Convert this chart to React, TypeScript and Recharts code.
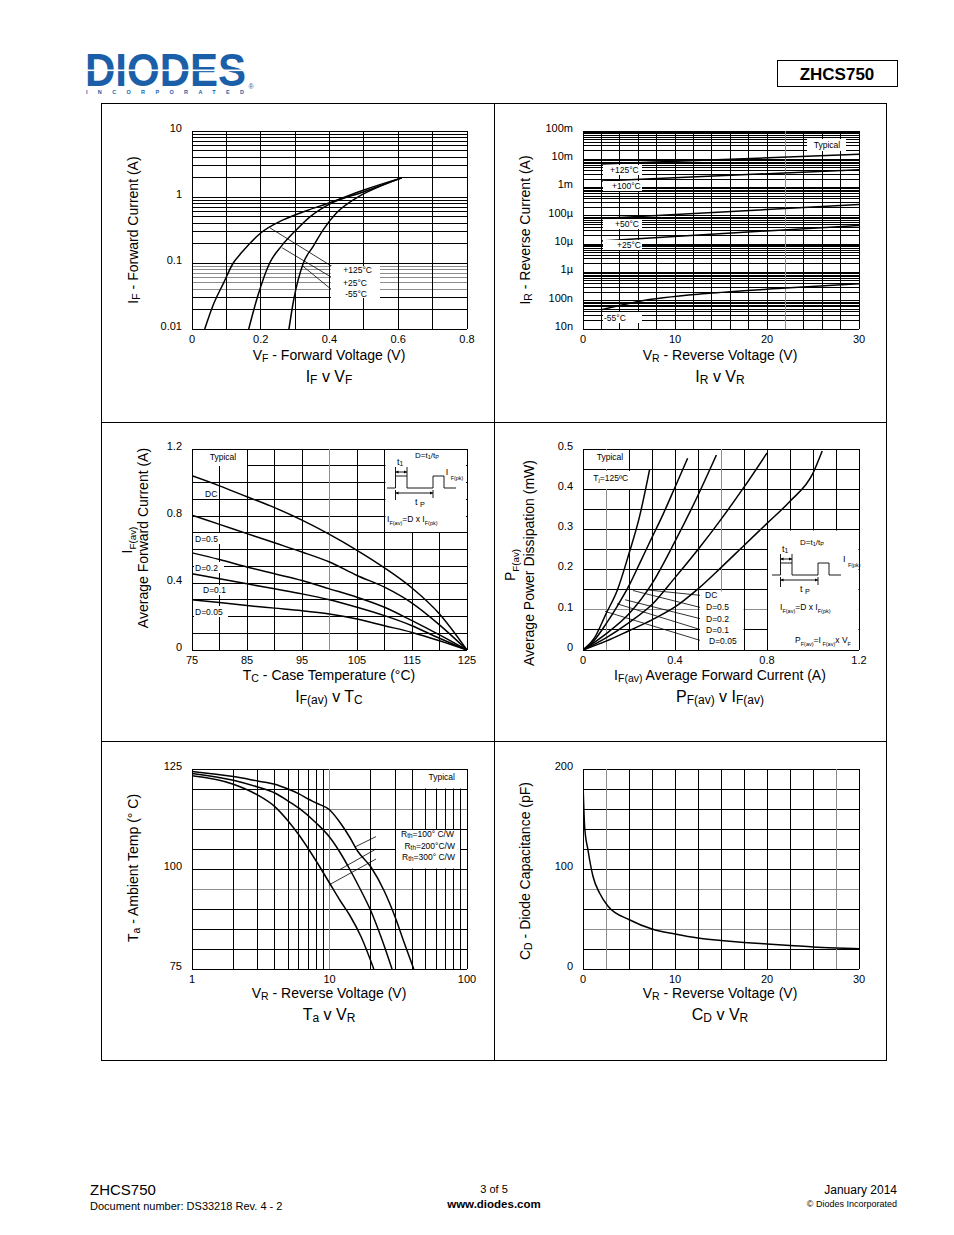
import React from "react";
import { LineChart, Line, XAxis, YAxis, ReferenceLine } from "recharts";

const FONT = "'Liberation Sans', Arial, Helvetica, sans-serif";
const BLUE = "#1b5fa8";

type Pt = { x: number; y: number };

// ---- IF v VF (log y) ----
const vfHot: Pt[] = [
  { x: 0.037, y: 0.01 }, { x: 0.06, y: 0.022 }, { x: 0.092, y: 0.05 }, { x: 0.12, y: 0.1 },
  { x: 0.145, y: 0.145 }, { x: 0.2, y: 0.285 }, { x: 0.265, y: 0.45 }, { x: 0.333, y: 0.62 },
  { x: 0.4, y: 0.82 }, { x: 0.5, y: 1.28 }, { x: 0.61, y: 1.95 },
];
const vfRoom: Pt[] = [
  { x: 0.165, y: 0.01 }, { x: 0.19, y: 0.03 }, { x: 0.226, y: 0.1 }, { x: 0.26, y: 0.18 },
  { x: 0.304, y: 0.32 }, { x: 0.343, y: 0.5 }, { x: 0.4, y: 0.78 }, { x: 0.5, y: 1.2 }, { x: 0.61, y: 1.95 },
];
const vfCold: Pt[] = [
  { x: 0.282, y: 0.01 }, { x: 0.296, y: 0.028 }, { x: 0.324, y: 0.1 }, { x: 0.353, y: 0.18 },
  { x: 0.382, y: 0.32 }, { x: 0.42, y: 0.57 }, { x: 0.48, y: 0.98 }, { x: 0.54, y: 1.4 }, { x: 0.61, y: 1.95 },
];
const vfXTicks = [0, 0.2, 0.4, 0.6, 0.8];
const vfXLabels = ["0", "0.2", "0.4", "0.6", "0.8"];
const ifYTicks = [0.01, 0.1, 1, 10];
const ifYLabels = ["0.01", "0.1", "1", "10"];
const vfLeaders: [Pt, Pt][] = [
  [{ x: 0.227, y: 0.34 }, { x: 0.41, y: 0.087 }],
  [{ x: 0.262, y: 0.17 }, { x: 0.41, y: 0.059 }],
  [{ x: 0.322, y: 0.09 }, { x: 0.41, y: 0.038 }],
];

// ---- IR v VR (log y) ----
const ir125: Pt[] = [{ x: 2, y: 6.8e-3 }, { x: 30, y: 1.5e-2 }];
const ir100: Pt[] = [{ x: 2, y: 1.7e-3 }, { x: 30, y: 4.3e-3 }];
const ir50: Pt[] = [{ x: 2, y: 8e-5 }, { x: 30, y: 2.5e-4 }];
const ir25: Pt[] = [{ x: 2, y: 1.3e-5 }, { x: 30, y: 4.6e-5 }];
const irM55: Pt[] = [
  { x: 2, y: 4.8e-8 }, { x: 6, y: 9.4e-8 }, { x: 14, y: 1.86e-7 }, { x: 22, y: 2.8e-7 }, { x: 30, y: 4.0e-7 },
];
const vrXTicks = [0, 10, 20, 30];
const vrXLabels = ["0", "10", "20", "30"];
const irYTicks = [1e-8, 1e-7, 1e-6, 1e-5, 1e-4, 1e-3, 1e-2, 1e-1];
const irYLabels = ["10n", "100n", "1µ", "10µ", "100µ", "1m", "10m", "100m"];

// ---- IF(av) v TC ----
const tcDC: Pt[] = [
  { x: 75, y: 1.04 }, { x: 80, y: 0.98 }, { x: 85, y: 0.915 }, { x: 90, y: 0.85 }, { x: 95, y: 0.775 },
  { x: 100, y: 0.69 }, { x: 105, y: 0.595 }, { x: 110, y: 0.49 }, { x: 115, y: 0.37 }, { x: 120, y: 0.215 }, { x: 125, y: 0 },
];
const tcD05: Pt[] = [
  { x: 75, y: 0.805 }, { x: 80, y: 0.75 }, { x: 85, y: 0.695 }, { x: 90, y: 0.64 }, { x: 95, y: 0.585 },
  { x: 100, y: 0.525 }, { x: 105, y: 0.445 }, { x: 110, y: 0.375 }, { x: 115, y: 0.28 }, { x: 120, y: 0.15 }, { x: 125, y: 0 },
];
const tcD02: Pt[] = [
  { x: 75, y: 0.58 }, { x: 80, y: 0.54 }, { x: 85, y: 0.495 }, { x: 90, y: 0.455 }, { x: 95, y: 0.415 },
  { x: 100, y: 0.365 }, { x: 105, y: 0.315 }, { x: 110, y: 0.255 }, { x: 115, y: 0.175 }, { x: 120, y: 0.09 }, { x: 125, y: 0 },
];
const tcD01: Pt[] = [
  { x: 75, y: 0.455 }, { x: 80, y: 0.425 }, { x: 85, y: 0.395 }, { x: 90, y: 0.365 }, { x: 95, y: 0.335 },
  { x: 100, y: 0.3 }, { x: 105, y: 0.255 }, { x: 110, y: 0.205 }, { x: 115, y: 0.145 }, { x: 120, y: 0.07 }, { x: 125, y: 0 },
];
const tcD005: Pt[] = [
  { x: 75, y: 0.3 }, { x: 80, y: 0.283 }, { x: 85, y: 0.265 }, { x: 90, y: 0.25 }, { x: 95, y: 0.235 },
  { x: 100, y: 0.215 }, { x: 105, y: 0.185 }, { x: 110, y: 0.145 }, { x: 115, y: 0.105 }, { x: 120, y: 0.055 }, { x: 125, y: 0 },
];
const tcXTicks = [75, 85, 95, 105, 115, 125];
const tcXLabels = ["75", "85", "95", "105", "115", "125"];
const tcYTicks = [0, 0.4, 0.8, 1.2];
const tcYLabels = ["0", "0.4", "0.8", "1.2"];

// ---- PF(av) v IF(av) ----
const pfD005: Pt[] = [
  { x: 0, y: 0 }, { x: 0.05, y: 0.03 }, { x: 0.1, y: 0.09 }, { x: 0.15, y: 0.15 }, { x: 0.2, y: 0.24 },
  { x: 0.245, y: 0.33 }, { x: 0.29, y: 0.45 },
];
const pfD01: Pt[] = [
  { x: 0, y: 0 }, { x: 0.05, y: 0.025 }, { x: 0.1, y: 0.065 }, { x: 0.15, y: 0.11 }, { x: 0.2, y: 0.16 },
  { x: 0.25, y: 0.22 }, { x: 0.3, y: 0.28 }, { x: 0.35, y: 0.34 }, { x: 0.4, y: 0.405 }, { x: 0.455, y: 0.477 },
];
const pfD02: Pt[] = [
  { x: 0, y: 0 }, { x: 0.1, y: 0.04 }, { x: 0.2, y: 0.09 }, { x: 0.3, y: 0.165 }, { x: 0.4, y: 0.27 },
  { x: 0.5, y: 0.385 }, { x: 0.58, y: 0.485 },
];
const pfD05: Pt[] = [
  { x: 0, y: 0 }, { x: 0.1, y: 0.03 }, { x: 0.2, y: 0.068 }, { x: 0.3, y: 0.113 }, { x: 0.4, y: 0.18 },
  { x: 0.5, y: 0.25 }, { x: 0.6, y: 0.325 }, { x: 0.7, y: 0.405 }, { x: 0.8, y: 0.49 },
];
const pfDC: Pt[] = [
  { x: 0, y: 0 }, { x: 0.1, y: 0.022 }, { x: 0.2, y: 0.048 }, { x: 0.3, y: 0.075 }, { x: 0.4, y: 0.107 },
  { x: 0.5, y: 0.152 }, { x: 0.6, y: 0.205 }, { x: 0.7, y: 0.26 }, { x: 0.8, y: 0.315 }, { x: 0.9, y: 0.37 },
  { x: 1.0, y: 0.44 }, { x: 1.04, y: 0.495 },
];
const pfXTicks = [0, 0.4, 0.8, 1.2];
const pfXLabels = ["0", "0.4", "0.8", "1.2"];
const pfYTicks = [0, 0.1, 0.2, 0.3, 0.4, 0.5];
const pfYLabels = ["0", "0.1", "0.2", "0.3", "0.4", "0.5"];
const pfLeaders: [Pt, Pt][] = [
  [{ x: 0.27, y: 0.15 }, { x: 0.509, y: 0.136 }],
  [{ x: 0.217, y: 0.148 }, { x: 0.509, y: 0.106 }],
  [{ x: 0.183, y: 0.125 }, { x: 0.509, y: 0.078 }],
  [{ x: 0.148, y: 0.115 }, { x: 0.509, y: 0.051 }],
  [{ x: 0.096, y: 0.096 }, { x: 0.509, y: 0.024 }],
];

// ---- Ta v VR (log x) ----
const taR100: Pt[] = [
  { x: 1, y: 124.4 }, { x: 2, y: 123.1 }, { x: 3, y: 122 }, { x: 4, y: 121.2 }, { x: 5, y: 120 },
  { x: 6, y: 118.8 }, { x: 7, y: 117.5 }, { x: 8, y: 116.5 }, { x: 10, y: 114.8 }, { x: 12, y: 111.5 },
  { x: 14, y: 108 }, { x: 16, y: 104.5 }, { x: 20, y: 100.5 }, { x: 25, y: 94.5 }, { x: 30, y: 88 },
  { x: 35, y: 81.5 }, { x: 41, y: 75 },
];
const taR200: Pt[] = [
  { x: 1, y: 123.9 }, { x: 2, y: 122.2 }, { x: 3, y: 120.5 }, { x: 4, y: 119 }, { x: 5, y: 117 },
  { x: 6, y: 115.2 }, { x: 8, y: 111.5 }, { x: 10, y: 108 }, { x: 12, y: 104 }, { x: 14, y: 100 },
  { x: 17, y: 94.5 }, { x: 20, y: 89.5 }, { x: 24, y: 82.5 }, { x: 28.5, y: 75 },
];
const taR300: Pt[] = [
  { x: 1, y: 123.3 }, { x: 2, y: 121.2 }, { x: 3, y: 118.5 }, { x: 4, y: 115.6 }, { x: 5, y: 112 },
  { x: 6, y: 108.5 }, { x: 8, y: 102 }, { x: 10, y: 96.5 }, { x: 12, y: 92 }, { x: 14, y: 88.5 },
  { x: 17, y: 83 }, { x: 21, y: 75 },
];
const taXTicks = [1, 10, 100];
const taXLabels = ["1", "10", "100"];
const taYTicks = [75, 100, 125];
const taYLabels = ["75", "100", "125"];
const taLeaders: [Pt, Pt][] = [
  [{ x: 15.3, y: 105.5 }, { x: 21.8, y: 108.1 }],
  [{ x: 11.8, y: 99.8 }, { x: 21.8, y: 105 }],
  [{ x: 9.9, y: 96 }, { x: 21.8, y: 102.5 }],
];

// ---- CD v VR ----
const cdVr: Pt[] = [
  { x: 0, y: 186 }, { x: 0.18, y: 142 }, { x: 0.54, y: 119 }, { x: 1.09, y: 92.5 }, { x: 1.8, y: 76 },
  { x: 2.7, y: 63 }, { x: 5.1, y: 49 }, { x: 7.5, y: 40 }, { x: 10, y: 35 }, { x: 12.5, y: 31 },
  { x: 15, y: 28.6 }, { x: 17.5, y: 26.6 }, { x: 20, y: 25 }, { x: 22.5, y: 23.6 }, { x: 25, y: 22 },
  { x: 27.5, y: 21 }, { x: 30, y: 20.3 },
];
const cdYTicks = [0, 100, 200];
const cdYLabels = ["0", "100", "200"];

function linGrid(a: number, b: number, step: number) {
  const out: number[] = [];
  const n = Math.round((b - a) / step);
  for (let i = 0; i <= n; i++) out.push(+(a + i * step).toFixed(6));
  return out;
}
function logGrid(a: number, b: number) {
  const out: number[] = [];
  for (let e = Math.round(Math.log10(a)); e < Math.round(Math.log10(b)); e++)
    for (let k = 1; k < 10; k++) out.push(+(k * Math.pow(10, e)).toPrecision(6));
  out.push(b);
  return out;
}
function labelFor(ticks: number[], labels: string[]) {
  return (v: number) => {
    let best = 0;
    ticks.forEach((t, i) => {
      if (Math.abs(t - v) < Math.abs(ticks[best] - v)) best = i;
    });
    return labels[best];
  };
}
const near = (list: number[], v: number) => list.some((g) => Math.abs(g - v) <= Math.abs(v) * 1e-6 + 1e-12);

type PlotProps = {
  L: number; T: number; W: number; H: number;
  xd: [number, number]; yd: [number, number];
  xlog?: boolean; ylog?: boolean;
  xt: number[]; yt: number[];
  xf: (v: number) => string; yf: (v: number) => string;
  gx: number[]; gy: number[];
  grayX?: number[]; grayY?: number[];
  series: Pt[][];
  linear?: boolean;
  leaders?: [Pt, Pt][];
};

function Plot({ L, T, W, H, xd, yd, xlog, ylog, xt, yt, xf, yf, gx, gy, grayX = [], grayY = [], series, linear, leaders = [] }: PlotProps) {
  const ML = 60, MT = 10, MR = 20, XH = 26;
  return (
    <div style={{ position: "absolute", left: L - ML, top: T - MT }}>
      <LineChart width={W + ML + MR} height={H + MT + XH} margin={{ top: MT, right: MR, left: 0, bottom: 0 }}>
        <XAxis
          type="number" dataKey="x" domain={xd} scale={xlog ? "log" : "linear"} ticks={xt} interval={0}
          allowDataOverflow height={XH} tickSize={0} tickMargin={6} axisLine={false} tickLine={false}
          tick={(p: any) => (
            <text x={p.x} y={p.y} dy="0.71em" textAnchor="middle" fontSize={11} fontFamily={FONT} fill="#000">
              {xf(p.payload.value)}
            </text>
          )}
        />
        <YAxis
          type="number" domain={yd} scale={ylog ? "log" : "linear"} ticks={yt} interval={0}
          allowDataOverflow width={ML} tickSize={0} tickMargin={10} axisLine={false} tickLine={false}
          tick={(p: any) => (
            <text x={p.x} y={p.y - 3} dy="0.35em" textAnchor="end" fontSize={11} fontFamily={FONT} fill="#000">
              {yf(p.payload.value)}
            </text>
          )}
        />
        {gy.map((v) => (
          <ReferenceLine key={"gy" + v} y={v} ifOverflow="visible" stroke={near(grayY, v) ? "#8c8c8c" : "#000"} strokeWidth={1} shapeRendering="crispEdges" />
        ))}
        {gx.map((v) => (
          <ReferenceLine key={"gx" + v} x={v} ifOverflow="visible" stroke={near(grayX, v) ? "#8c8c8c" : "#000"} strokeWidth={1} shapeRendering="crispEdges" />
        ))}
        {leaders.map((s, i) => (
          <ReferenceLine key={"ld" + i} segment={s} ifOverflow="visible" stroke="#000" strokeWidth={0.8} />
        ))}
        {series.map((s, i) => (
          <Line
            key={"s" + i} data={s} dataKey="y" type={linear ? "linear" : "monotone"} stroke="#000" strokeWidth={1.5}
            dot={false} activeDot={false} isAnimationActive={false}
          />
        ))}
      </LineChart>
    </div>
  );
}

type Part = string | { s: string };
function Rich({ x, y, parts, size, anchor = "middle", rot = false, sub = 0.75, shift = 0.15, weight }: {
  x: number; y: number; parts: Part[]; size: number; anchor?: "start" | "middle" | "end"; rot?: boolean; sub?: number; shift?: number; weight?: string;
}) {
  let cur = 0;
  const sh = size * shift;
  return (
    <text x={x} y={y} fontSize={size} textAnchor={anchor} fontFamily={FONT} fontWeight={weight} fill="#000"
      transform={rot ? `rotate(-90 ${x} ${y})` : undefined}>
      {parts.map((p, i) => {
        if (typeof p === "string") {
          const dy = -cur;
          cur = 0;
          return <tspan key={i} dy={dy}>{p}</tspan>;
        }
        const dy = sh - cur;
        cur = sh;
        return <tspan key={i} dy={dy} fontSize={size * sub}>{p.s}</tspan>;
      })}
    </text>
  );
}

function Box({ x, y, w, h }: { x: number; y: number; w: number; h: number }) {
  return <rect x={x} y={y} width={w} height={h} fill="#fff" />;
}

function Small({ x, y, t, anchor = "start" }: { x: number; y: number; t: string; anchor?: "start" | "middle" | "end" }) {
  return (
    <text x={x} y={y} fontSize={8.5} fontFamily={FONT} textAnchor={anchor} fill="#000">{t}</text>
  );
}

function Pulse({ ox, oy, ix }: { ox: number; oy: number; ix: number }) {
  const a = ox + 8.5, b = ox + 20, c = ox + 46, d = ox + 57, e = ox + 69;
  const top = oy - 12;
  return (
    <g>
      <g stroke="#000" strokeWidth={0.9} fill="none">
        <path d={`M${ox},${oy} H${a} V${top} H${b} V${oy} H${c} V${top} H${d} V${oy} H${e}`} />
        <line x1={a} y1={oy - 21} x2={a} y2={oy - 12} />
        <line x1={b} y1={oy - 21} x2={b} y2={oy - 12} />
        <line x1={a} y1={oy - 16} x2={b} y2={oy - 16} />
        <line x1={a} y1={oy + 2} x2={a} y2={oy + 12} />
        <line x1={c} y1={oy + 2} x2={c} y2={oy + 10} />
        <line x1={a} y1={oy + 5} x2={c} y2={oy + 5} />
      </g>
      <g fill="#000">
        <path d={`M${a},${oy - 16} l3,-1.5 v3 z`} />
        <path d={`M${b},${oy - 16} l-3,-1.5 v3 z`} />
        <path d={`M${a},${oy + 5} l3,-1.5 v3 z`} />
        <path d={`M${c},${oy + 5} l-3,-1.5 v3 z`} />
      </g>
      <Rich x={ox + 10} y={oy - 23.5} size={9} anchor="start" parts={["t", { s: "1" }]} />
      <Rich x={ox + 28} y={oy - 30} size={8} anchor="start" sub={0.7} parts={["D=t", { s: "1" }, "/t", { s: "P" }]} />
      <Rich x={ox + 28} y={oy + 16.5} size={9} anchor="start" sub={0.8} shift={0.25} parts={["t ", { s: "P" }]} />
      <Rich x={ox + ix} y={oy - 13.5} size={9} anchor="start" sub={0.6} shift={0.6} parts={["I ", { s: "F(pk)" }]} />
    </g>
  );
}

function Overlay() {
  return (
    <svg width={954} height={1235} style={{ position: "absolute", left: 0, top: 0, pointerEvents: "none" }}>
      {/* header */}
      <text x={85} y={86} fontFamily={FONT} fontWeight="bold" fontSize={47} fill={BLUE} textLength={161} lengthAdjust="spacingAndGlyphs">DIODES</text>
      <rect x={85} y={69.5} width={163} height={1.6} fill="#fff" />
      <text x={248.5} y={89} fontFamily={FONT} fontSize={7} fill={BLUE}>®</text>
      <text x={86} y={94} fontFamily={FONT} fontWeight="bold" fontSize={5.5} fill={BLUE} textLength={158} lengthAdjust="spacing">INCORPORATED</text>
      <rect x={777.5} y={60.5} width={120} height={26} fill="none" stroke="#000" strokeWidth={1} />
      <text x={837} y={80} fontFamily={FONT} fontWeight="bold" fontSize={17} textAnchor="middle">ZHCS750</text>

      {/* frame */}
      <rect x={101.5} y={103.5} width={785} height={957} fill="none" stroke="#000" strokeWidth={1} />
      <line x1={494.5} y1={103.5} x2={494.5} y2={1060.5} stroke="#000" />
      <line x1={101.5} y1={422.5} x2={886.5} y2={422.5} stroke="#000" />
      <line x1={101.5} y1={741.5} x2={886.5} y2={741.5} stroke="#000" />

      {/* chart 1 labels */}
      <Box x={331} y={266} w={49} h={32} />
      <Small x={372} y={273} t="+125°C" anchor="end" />
      <Small x={367} y={285.5} t="+25°C" anchor="end" />
      <Small x={367} y={296.5} t="-55°C" anchor="end" />
      <Rich x={138} y={230} rot size={14} parts={["I", { s: "F" }, " - Forward Current (A)"]} />
      <Rich x={329} y={360} size={14} parts={["V", { s: "F" }, " - Forward Voltage (V)"]} />
      <Rich x={329} y={382} size={16} parts={["I", { s: "F" }, " v V", { s: "F" }]} />

      {/* chart 2 labels */}
      <Box x={807} y={139} w={39} h={12} />
      <Small x={827} y={148} t="Typical" anchor="middle" />
      <Box x={603} y={165} w={39} h={10} />
      <Small x={610} y={173} t="+125°C" />
      <Box x={603} y={181} w={39} h={10} />
      <Small x={612} y={188.5} t="+100°C" />
      <Box x={603} y={219} w={39} h={10} />
      <Small x={615} y={227} t="+50°C" />
      <Box x={603} y={240} w={39} h={10} />
      <Small x={617} y={248} t="+25°C" />
      <Box x={603} y={312} w={39} h={11} />
      <Small x={604} y={321} t="-55°C" />
      <Rich x={530} y={230} rot size={14} parts={["I", { s: "R" }, " - Reverse Current (A)"]} />
      <Rich x={720} y={360} size={14} parts={["V", { s: "R" }, " - Reverse Voltage (V)"]} />
      <Rich x={720} y={382} size={16} parts={["I", { s: "R" }, " v V", { s: "R" }]} />

      {/* chart 3 labels */}
      <Box x={193} y={450} w={54} h={16} />
      <Small x={223} y={459.5} t="Typical" anchor="middle" />
      <Box x={199} y={488} w={17} h={10} />
      <Small x={205} y={496.5} t="DC" />
      <Box x={194} y={533} w={32} h={11} />
      <Small x={195} y={541.5} t="D=0.5" />
      <Box x={194} y={562} w={30} h={11} />
      <Small x={195} y={571} t="D=0.2" />
      <Box x={202} y={585} w={27} h={10} />
      <Small x={203} y={593.2} t="D=0.1" />
      <Box x={194} y={606} w={34} h={11} />
      <Small x={195} y={615} t="D=0.05" />
      <Box x={385.5} y={450} w={80.5} h={82} />
      <Pulse ox={387} oy={488} ix={58.7} />
      <Rich x={387} y={522} size={8.5} anchor="start" sub={0.65} shift={0.3} parts={["I", { s: "F(av)" }, "=D x I", { s: "F(pk)" }]} />
      <Rich x={132} y={540} rot size={14} sub={0.7} shift={0.3} parts={["I", { s: "F(av)" }]} />
      <Rich x={148} y={538} rot size={14} parts={["Average Forward Current (A)"]} />
      <Rich x={329} y={680} size={14} parts={["T", { s: "C" }, " - Case Temperature (°C)"]} />
      <Rich x={329} y={702} size={16} parts={["I", { s: "F(av)" }, " v T", { s: "C" }]} />

      {/* chart 4 labels */}
      <Box x={584} y={450} w={44.5} h={19} />
      <Small x={610} y={460} t="Typical" anchor="middle" />
      <Box x={584} y={471} w={56} h={18} />
      <Rich x={593.3} y={480.5} size={8.5} anchor="start" sub={0.7} parts={["T", { s: "j" }, "=125ºC"]} />
      <Box x={700} y={591.5} w={43.5} h={58.5} />
      <Small x={705} y={598.2} t="DC" />
      <Small x={706} y={610} t="D=0.5" />
      <Small x={706} y={621.5} t="D=0.2" />
      <Small x={706} y={633.2} t="D=0.1" />
      <Small x={709} y={643.5} t="D=0.05" />
      <Box x={768} y={530.5} w={90.5} h={119.5} />
      <Pulse ox={772} oy={575} ix={71} />
      <Rich x={780} y={610} size={8.5} anchor="start" sub={0.65} shift={0.3} parts={["I", { s: "F(av)" }, "=D x I", { s: "F(pk)" }]} />
      <Rich x={795} y={643} size={8.5} anchor="start" sub={0.65} shift={0.3} parts={["P", { s: "F(av)" }, "=I", { s: " F(av)" }, "x V", { s: "F" }]} />
      <Rich x={515} y={565} rot size={14} sub={0.7} shift={0.3} parts={["P", { s: "F(av)" }]} />
      <Rich x={534} y={563} rot size={14} parts={["Average Power Dissipation (mW)"]} />
      <Rich x={720} y={680} size={14} parts={["I", { s: "F(av)" }, " Average Forward Current (A)"]} />
      <Rich x={720} y={702} size={16} parts={["P", { s: "F(av)" }, " v I", { s: "F(av)" }]} />

      {/* chart 5 labels */}
      <Box x={413} y={770} w={53} h={18.5} />
      <Small x={441.7} y={779.9} t="Typical" anchor="middle" />
      <Box x={396} y={830} w={64} h={38.5} />
      <Rich x={454} y={836.5} size={8.5} anchor="end" sub={0.75} parts={["R", { s: "th" }, "=100° C/W"]} />
      <Rich x={455} y={849} size={8.5} anchor="end" sub={0.75} parts={["R", { s: "th" }, "=200°C/W"]} />
      <Rich x={455} y={860} size={8.5} anchor="end" sub={0.75} parts={["R", { s: "th" }, "=300° C/W"]} />
      <Rich x={138} y={868} rot size={14} parts={["T", { s: "a" }, " - Ambient Temp (° C)"]} />
      <Rich x={329} y={998} size={14} parts={["V", { s: "R" }, " - Reverse Voltage (V)"]} />
      <Rich x={329} y={1020} size={16} parts={["T", { s: "a" }, " v V", { s: "R" }]} />

      {/* chart 6 labels */}
      <Rich x={530} y={871} rot size={14} parts={["C", { s: "D" }, " - Diode Capacitance (pF)"]} />
      <Rich x={720} y={998} size={14} parts={["V", { s: "R" }, " - Reverse Voltage (V)"]} />
      <Rich x={720} y={1020} size={16} parts={["C", { s: "D" }, " v V", { s: "R" }]} />

      {/* footer */}
      <text x={90} y={1195} fontFamily={FONT} fontSize={15}>ZHCS750</text>
      <text x={90} y={1210} fontFamily={FONT} fontSize={11}>Document number: DS33218 Rev. 4 - 2</text>
      <text x={494} y={1193} fontFamily={FONT} fontSize={11} textAnchor="middle">3 of 5</text>
      <text x={494} y={1208} fontFamily={FONT} fontSize={11.5} fontWeight="bold" textAnchor="middle">www.diodes.com</text>
      <text x={897} y={1194} fontFamily={FONT} fontSize={12} textAnchor="end">January 2014</text>
      <text x={897} y={1207} fontFamily={FONT} fontSize={9} textAnchor="end">© Diodes Incorporated</text>
    </svg>
  );
}

export default function App() {
  return (
    <div style={{ position: "absolute", left: 0, top: 0, width: 954, height: 1235, background: "#fff", fontFamily: FONT }}>
      <Plot
        L={192} T={131} W={275} H={198} xd={[0, 0.8]} yd={[0.01, 10]} ylog
        xt={vfXTicks} yt={ifYTicks} xf={labelFor(vfXTicks, vfXLabels)} yf={labelFor(ifYTicks, ifYLabels)}
        gx={linGrid(0, 0.8, 0.1)} gy={logGrid(0.01, 10)} grayY={[0.04, 0.05, 0.06, 0.07, 0.08, 0.09]}
        series={[vfHot, vfRoom, vfCold]} leaders={vfLeaders}
      />
      <Plot
        L={583} T={131} W={276} H={198} xd={[0, 30]} yd={[1e-8, 0.1]} ylog linear
        xt={vrXTicks} yt={irYTicks} xf={labelFor(vrXTicks, vrXLabels)} yf={labelFor(irYTicks, irYLabels)}
        gx={linGrid(0, 30, 2)} gy={logGrid(1e-8, 0.1)} grayX={[22]}
        series={[ir125, ir100, ir50, ir25]}
      />
      <Plot
        L={583} T={131} W={276} H={198} xd={[0, 30]} yd={[1e-8, 0.1]} ylog
        xt={[]} yt={[]} xf={() => ""} yf={() => ""}
        gx={[]} gy={[]}
        series={[irM55]}
      />
      <Plot
        L={192} T={449} W={275} H={201} xd={[75, 125]} yd={[0, 1.2]}
        xt={tcXTicks} yt={tcYTicks} xf={labelFor(tcXTicks, tcXLabels)} yf={labelFor(tcYTicks, tcYLabels)}
        gx={linGrid(75, 125, 5)} gy={linGrid(0, 1.2, 0.1)} grayX={[100]}
        series={[tcDC, tcD05, tcD02, tcD01, tcD005]}
      />
      <Plot
        L={583} T={449} W={276} H={201} xd={[0, 1.2]} yd={[0, 0.5]}
        xt={pfXTicks} yt={pfYTicks} xf={labelFor(pfXTicks, pfXLabels)} yf={labelFor(pfYTicks, pfYLabels)}
        gx={linGrid(0, 1.2, 0.1)} gy={linGrid(0, 0.5, 0.05)} grayX={[0.1, 0.6]} grayY={[0.1]}
        series={[pfD005, pfD01, pfD02, pfD05, pfDC]} leaders={pfLeaders}
      />
      <Plot
        L={192} T={769} W={275} H={200} xd={[1, 100]} yd={[75, 125]} xlog
        xt={taXTicks} yt={taYTicks} xf={labelFor(taXTicks, taXLabels)} yf={labelFor(taYTicks, taYLabels)}
        gx={logGrid(1, 100)} gy={linGrid(75, 125, 5)} grayX={[10]} grayY={[95, 115]}
        series={[taR100, taR200, taR300]} leaders={taLeaders}
      />
      <Plot
        L={583} T={769} W={276} H={200} xd={[0, 30]} yd={[0, 200]}
        xt={vrXTicks} yt={cdYTicks} xf={labelFor(vrXTicks, vrXLabels)} yf={labelFor(cdYTicks, cdYLabels)}
        gx={linGrid(0, 30, 2.5)} gy={linGrid(0, 200, 20)} grayX={[2.5, 27.5]} grayY={[40, 80]}
        series={[cdVr]}
      />
      <Overlay />
    </div>
  );
}
